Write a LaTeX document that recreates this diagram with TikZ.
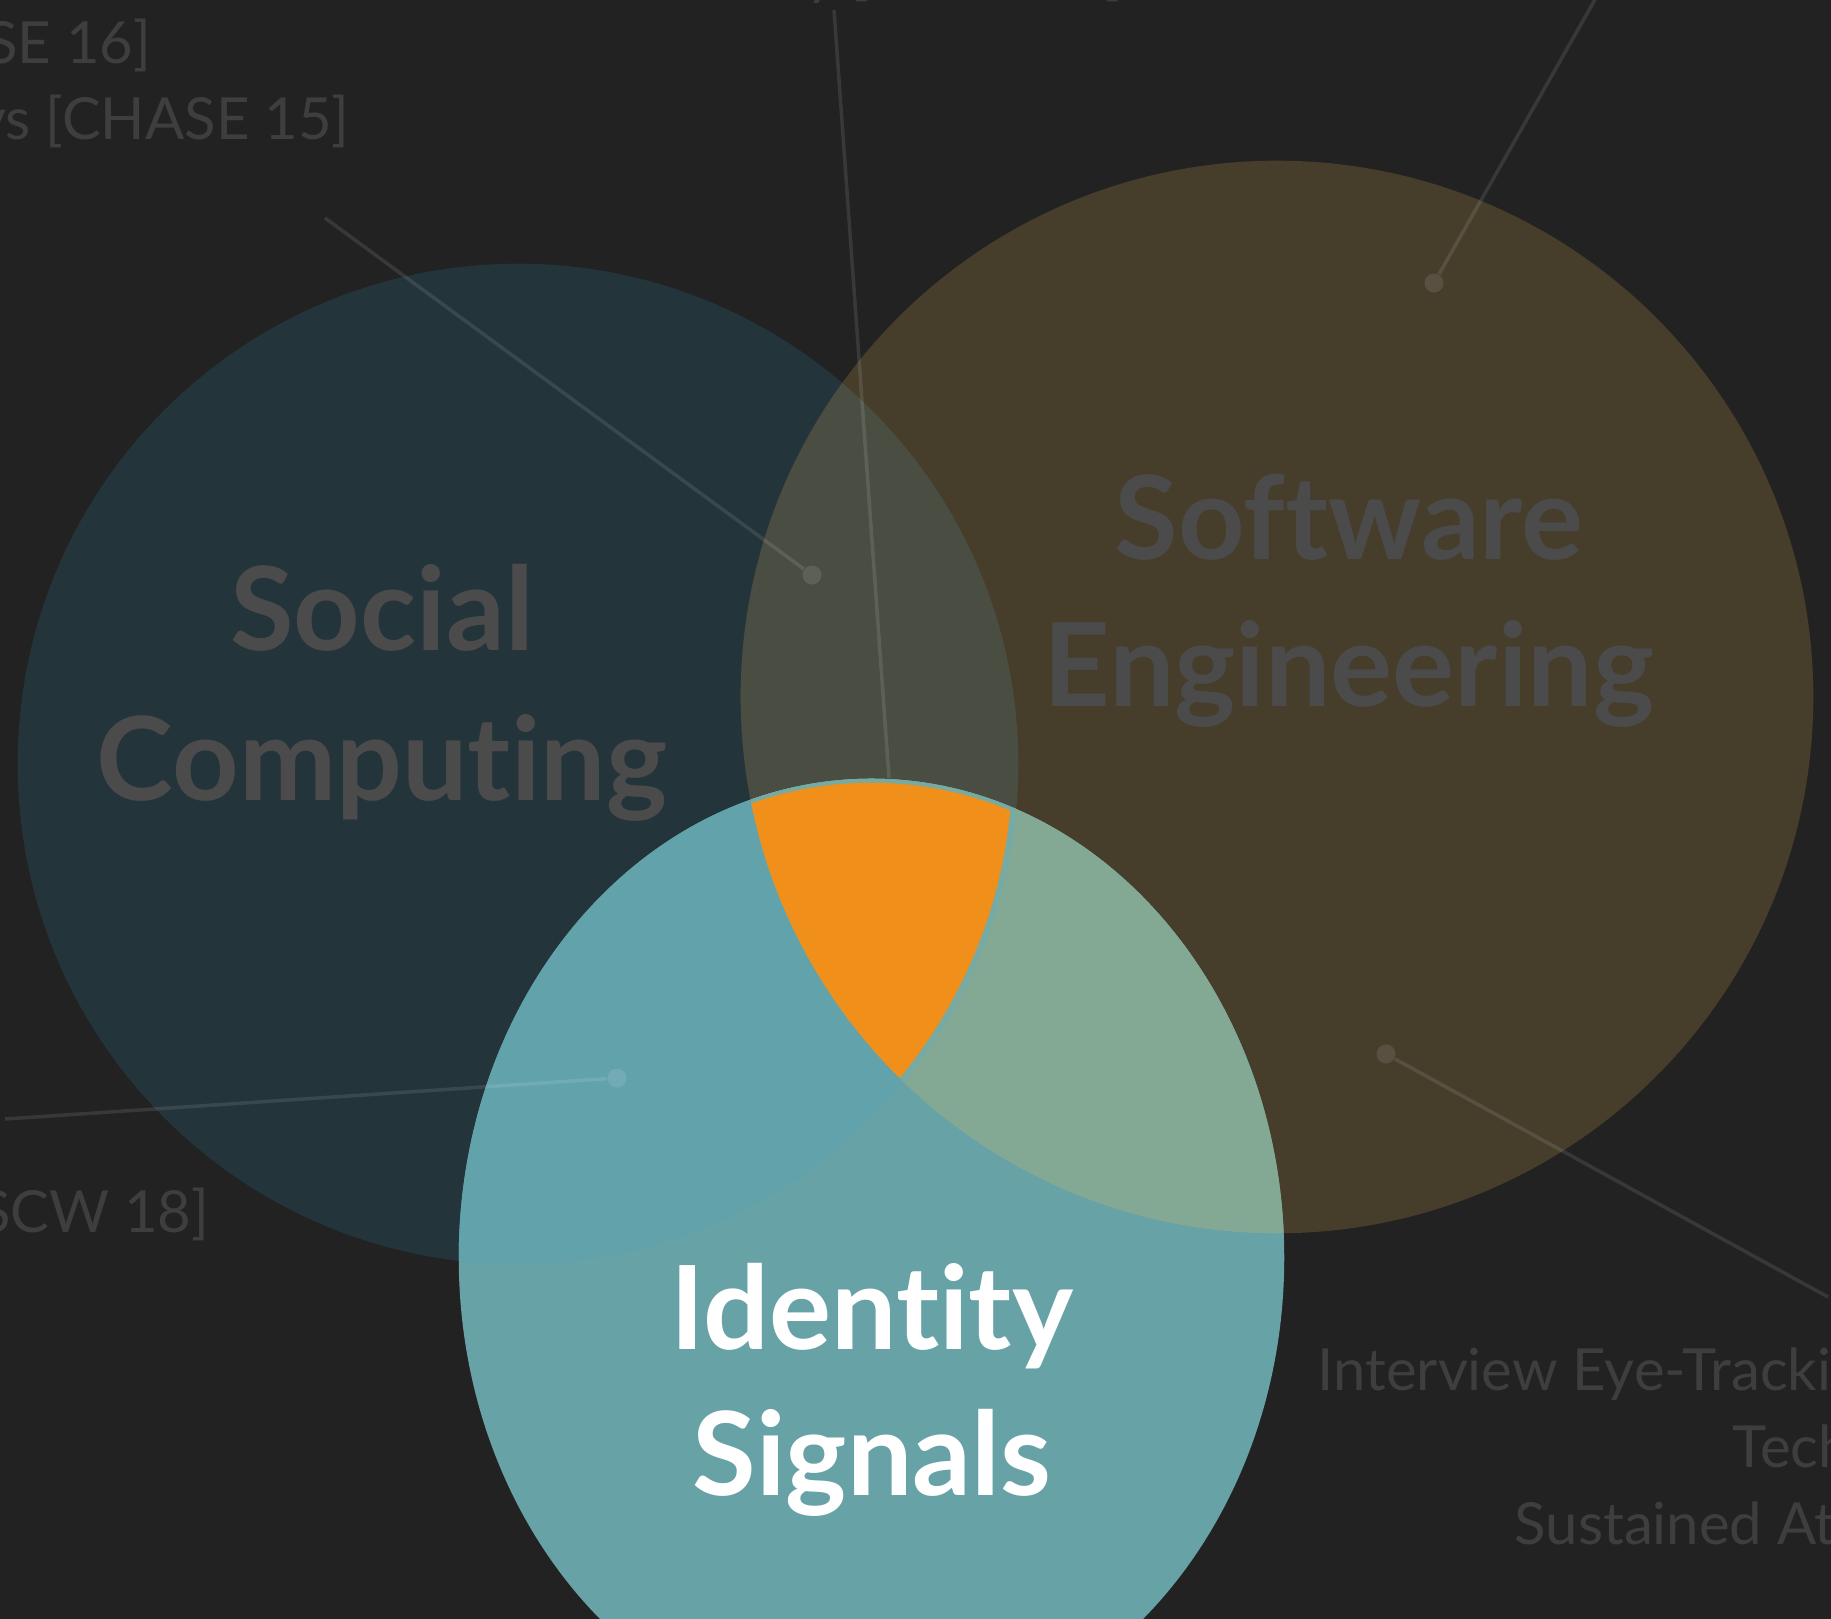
\documentclass[tikz,border=0pt]{standalone}
\usepackage{xcolor}
\usepackage{fontspec}
\setmainfont{Lato}[Ligatures={NoCommon}]
\usepackage{tikz}
\usetikzlibrary{positioning}

\definecolor{canvas}{HTML}{222222}
\definecolor{socialfill}{HTML}{24343B}
\definecolor{softfill}{HTML}{463D2B}
\definecolor{bothfill}{HTML}{4A4E42}
\definecolor{identfill}{HTML}{67A2A7}
\definecolor{identsocial}{HTML}{62A2AB}
\definecolor{identsoft}{HTML}{83A995}
\definecolor{identband}{HTML}{76AAA2}
\definecolor{coreorange}{HTML}{F0901A}
\definecolor{labelgray}{HTML}{4B4B4B}
\definecolor{notegray}{HTML}{3E3E3E}

\begin{document}
\begin{tikzpicture}[
  x=0.01cm, y=-0.01cm,
  title/.style={font=\fontsize{33}{40}\selectfont\bfseries, text=#1,
                anchor=base, inner sep=0pt},
  title/.default={labelgray},
  ref/.style={font=\fontsize{16.5}{20}\selectfont, text=notegray, inner sep=0pt},
  leader/.style={draw=white, draw opacity=0.1, line width=1pt},
  pin/.style={circle, fill=white, fill opacity=0.1, inner sep=0pt, minimum size=0.19cm},
  socring/.style={radius=5cm},
  softring/.style={radius=5.36cm},
  identring/.style={x radius=4.125cm, y radius=4.79cm}
]
  \clip (0,0) rectangle (1831,1619);
  \fill[canvas] (0,0) rectangle (1831,1619);

  \coordinate (socc) at (518,764);
  \coordinate (softc) at (1277,697);
  \coordinate (identc) at (871.5,1258);

  \fill[socialfill] (socc) circle[socring];
  \fill[softfill] (softc) circle[softring];
  \begin{scope}
    \clip (socc) circle[socring];
    \fill[bothfill] (softc) circle[softring];
  \end{scope}
  \fill[identfill] (identc) ellipse[identring];
  \begin{scope}
    \clip (identc) ellipse[identring];
    \fill[identsocial] (socc) circle[socring];
    \fill[identsoft] (softc) circle[softring];
    \clip (socc) circle[socring];
    \fill[identband] (softc) circle[softring];
  \end{scope}
  \begin{scope}
    \clip ([yshift=-0.04cm]identc) ellipse[identring];
    \clip (socc) circle[radius=4.94cm];
    \fill[coreorange] (softc) circle[softring];
  \end{scope}

  \node[title] (social) at (382,650) {Social};
  \node[title] (computing) at ([yshift=-1.5cm]social.base) {Computing};
  \node[title] (software) at (1349,560) {Software};
  \node[title] (engineering) at ([yshift=-1.46cm]software.base) {Engineering};
  \node[title=white] (identity) at (872,1349) {Identity};
  \node[title=white] (signals) at ([yshift=-1.46cm]identity.base) {Signals};

  \node[ref, anchor=base west] (topref) at (806,-6) {y [\hphantom{CHASE 1}]};
  \node[ref, anchor=base east] (chase16) at (152,64) {SE 16]};
  \node[ref, anchor=base east] (chase15) at (350,140) {ys [CHASE 15]};
  \node[ref, anchor=base east] (cscw18) at (210,1232) {SCW 18]};
  \node[ref, anchor=base west] (interview) at (1317,1390) {Interview Eye-Trackin};
  \node[ref, anchor=base west] (tech) at (1732,1467) {Tech};
  \node[ref, anchor=base west] (sustained) at (1514,1544) {Sustained At};

  \node[pin] (pinboth) at (812,575) {};
  \node[pin] (pinsoft) at (1434,283) {};
  \node[pin] (pinsocial) at (617,1078) {};
  \node[pin] (pinident) at (1386,1054) {};
  \coordinate (endboth) at (325,218);
  \coordinate (endtop) at (834,10);
  \coordinate (endcore) at (889,778);
  \coordinate (endsoft) at (1597,-4);
  \coordinate (endsocial) at (5,1119);
  \coordinate (endident) at (1828,1297);

  \draw[leader] (endboth) -- (pinboth);
  \draw[leader] (endtop) -- (endcore);
  \draw[leader] (endsoft) -- (pinsoft);
  \draw[leader] (endsocial) -- (pinsocial);
  \draw[leader] (pinident) -- (endident);
\end{tikzpicture}
\end{document}
